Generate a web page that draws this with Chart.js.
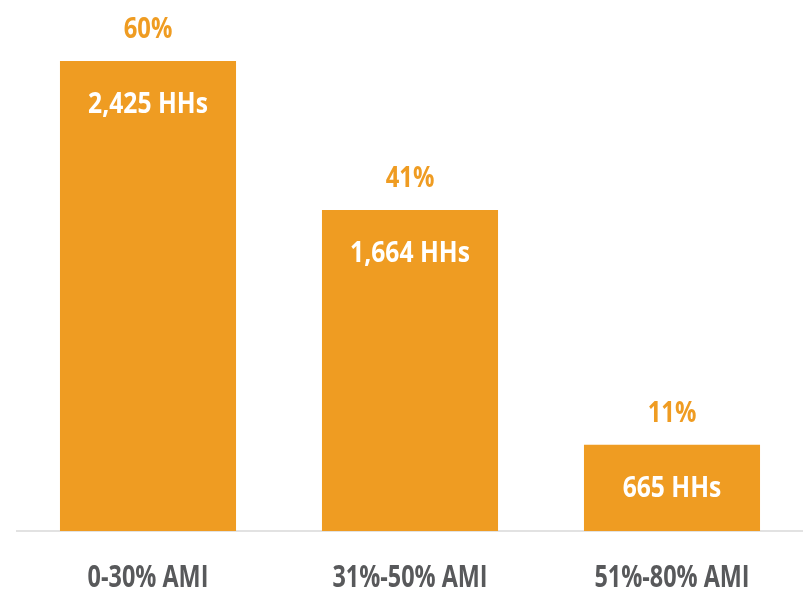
<!DOCTYPE html>
<html>
<head>
<meta charset="utf-8">
<script src="https://cdn.jsdelivr.net/npm/chart.js@4/dist/chart.umd.min.js"></script>
<style>
  html, body { margin: 0; padding: 0; background: #fff; }
  canvas { display: block; }
</style>
</head>
<body>
<canvas id="myChart" width="803" height="593"></canvas>
<script>
var categories = ['0-30% AMI', '31%-50% AMI', '51%-80% AMI'];
var shares = [60, 41, 11];
var households = ['2,425 HHs', '1,664 HHs', '665 HHs'];

var FONT = '"Open Sans", "DejaVu Sans Condensed", sans-serif';
var ORANGE = '#ef9c22';

// bold text squeezed horizontally to get a condensed look
function narrowText(ctx, text, x, y, size, squeeze, color) {
  ctx.save();
  ctx.font = 'bold ' + size + 'px ' + FONT;
  ctx.fillStyle = color;
  ctx.textAlign = 'center';
  ctx.textBaseline = 'middle';
  ctx.translate(x, y);
  ctx.scale(squeeze, 1);
  ctx.fillText(text, 0, 0);
  ctx.restore();
}

var barLabels = {
  id: 'barLabels',
  afterDatasetsDraw: function (chart) {
    var ctx = chart.ctx;
    var meta = chart.getDatasetMeta(0);
    var xScale = chart.scales.x;
    meta.data.forEach(function (bar, i) {
      narrowText(ctx, shares[i] + '%', bar.x, bar.y - 31, 29, 0.82, ORANGE);
      narrowText(ctx, households[i], bar.x, bar.y + 44, 29, 0.85, '#ffffff');
      narrowText(ctx, chart.data.labels[i], xScale.getPixelForValue(i), 578, 30, 0.78, '#58595b');
    });
  }
};

var ctx = document.getElementById('myChart').getContext('2d');
var myChart = new Chart(ctx, {
  type: 'bar',
  data: {
    labels: categories,
    datasets: [{
      data: shares,
      backgroundColor: ORANGE,
      borderWidth: 0,
      barPercentage: 0.672,
      categoryPercentage: 1
    }]
  },
  options: {
    responsive: false,
    animation: false,
    layout: { padding: { left: 17, right: 0, top: 0, bottom: 62 } },
    plugins: {
      legend: { display: false },
      tooltip: { enabled: false }
    },
    scales: {
      y: {
        display: false,
        min: 0,
        max: 67.8
      },
      x: {
        grid: { display: false, drawTicks: false },
        border: { display: true, color: '#e2e2e2', width: 2 },
        ticks: { display: false }
      }
    }
  },
  plugins: [barLabels]
});
</script>
</body>
</html>
